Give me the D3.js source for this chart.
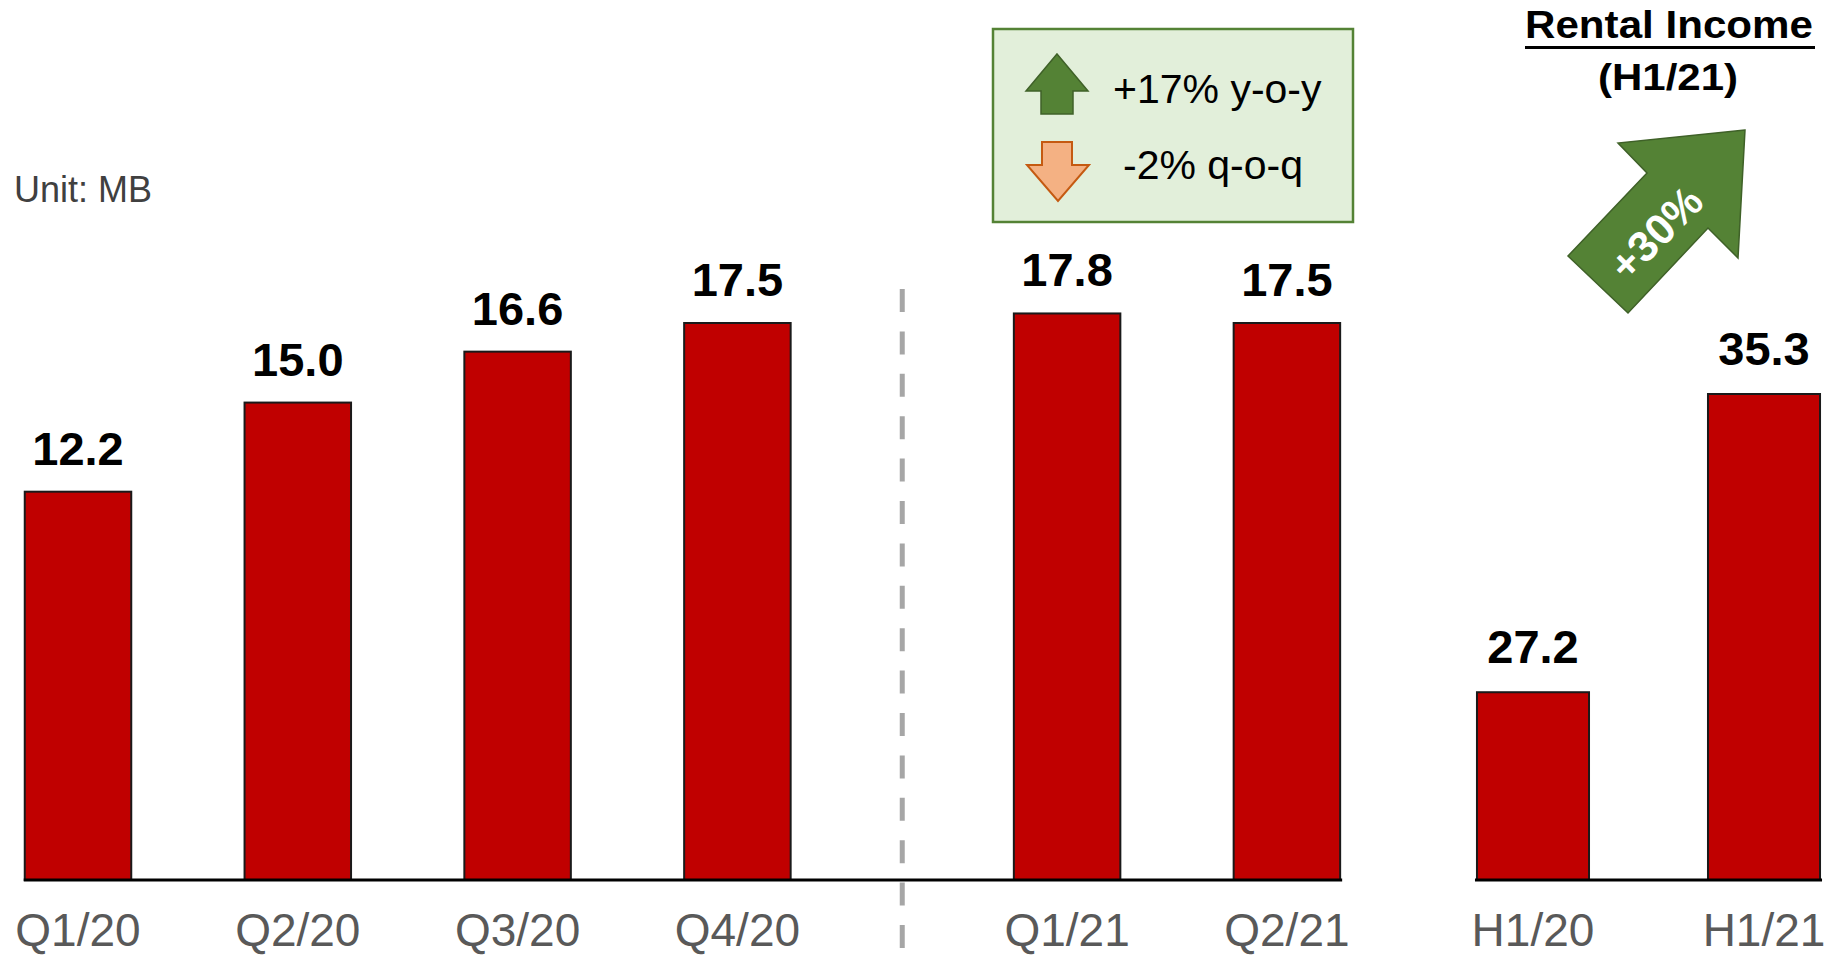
<!DOCTYPE html>
<html>
<head>
<meta charset="utf-8">
<script src="https://cdn.jsdelivr.net/npm/d3@7"></script>
<style>
  body { margin: 0; background: #fff; }
  svg { display: block; font-family: "Liberation Sans", Arial, sans-serif; }
</style>
</head>
<body>
<svg id="chart" width="1834" height="956"></svg>
<script>
// quarterly rental income (MB)
let quarters = ['Q1/20', 'Q2/20', 'Q3/20', 'Q4/20', 'Q1/21', 'Q2/21'];
let quarterValues = [12.2, 15.0, 16.6, 17.5, 17.8, 17.5];

// half-year comparison
let halves = ['H1/20', 'H1/21'];
let halfValues = [27.2, 35.3];

let unitLabel = 'Unit: MB';
let legendItems = ['+17% y-o-y', '-2% q-o-q'];
let halfTitle = ['Rental Income', '(H1/21)'];
let halfGrowth = '+30%';

let width = 1834, height = 956;
let baseY = 880;
let red = '#c00000', green = '#548235', darkGreen = '#3f6128';

let svg = d3.select('#chart');

//slot index per quarter, half a slot extra gap when the year changes
let slots = [];
quarters.forEach(function(q, i) {
  let s = i;
  if (i > 0) {
    let prev = slots[i - 1];
    s = prev + 1 + (q.slice(-2) !== quarters[i - 1].slice(-2) ? 0.5 : 0);
  }
  slots.push(s);
});

let xQ = d3.scaleLinear()
  .domain([0, 1])
  .range([78, 297.8]);
let barW = 106.5;

let yQ = d3.scaleLinear()
  .domain([0, 17.5])
  .range([baseY, 323]);

// quarter bars
let qg = svg.append('g');
qg.selectAll('rect')
  .data(quarterValues)
  .join('rect')
  .attr('x', function(d, i) { return xQ(slots[i]) - barW / 2; })
  .attr('y', function(d) { return yQ(d); })
  .attr('width', barW)
  .attr('height', function(d) { return baseY - yQ(d); })
  .attr('fill', red)
  .attr('stroke', '#1a1a1a')
  .attr('stroke-width', 2);

qg.selectAll('.val')
  .data(quarterValues)
  .join('text')
  .attr('class', 'val')
  .attr('x', function(d, i) { return xQ(slots[i]); })
  .attr('y', function(d) { return yQ(d) - 27; })
  .attr('text-anchor', 'middle')
  .attr('font-size', 47)
  .attr('font-weight', 'bold')
  .attr('fill', '#000')
  .text(function(d) { return d.toFixed(1); });

qg.selectAll('.cat')
  .data(quarters)
  .join('text')
  .attr('class', 'cat')
  .attr('x', function(d, i) { return xQ(slots[i]); })
  .attr('y', 946)
  .attr('text-anchor', 'middle')
  .attr('font-size', 46)
  .attr('fill', '#595959')
  .text(function(d) { return d; });

// quarter baseline
qg.append('line')
  .attr('x1', xQ(slots[0]) - barW / 2 - 1)
  .attr('x2', xQ(slots[slots.length - 1]) + barW / 2 + 2)
  .attr('y1', baseY).attr('y2', baseY)
  .attr('stroke', '#000')
  .attr('stroke-width', 3);

// dashed divider between years
let divX = (xQ(slots[3]) + xQ(slots[4])) / 2;
svg.append('line')
  .attr('x1', divX).attr('x2', divX)
  .attr('y1', 289).attr('y2', 956)
  .attr('stroke', '#a6a6a6')
  .attr('stroke-width', 5)
  .attr('stroke-dasharray', '23,19.4');

// half-year bars (truncated axis)
let xH = d3.scaleBand()
  .domain(halves)
  .range([1358, 1939])
  .padding(0.515);

let yH = d3.scaleLinear()
  .domain([22.1, 35.3])
  .range([baseY, 394]);

let hg = svg.append('g');
hg.selectAll('rect')
  .data(halfValues)
  .join('rect')
  .attr('x', function(d, i) { return xH(halves[i]); })
  .attr('y', function(d) { return yH(d); })
  .attr('width', xH.bandwidth())
  .attr('height', function(d) { return baseY - yH(d); })
  .attr('fill', red)
  .attr('stroke', '#1a1a1a')
  .attr('stroke-width', 2);

hg.selectAll('.val')
  .data(halfValues)
  .join('text')
  .attr('class', 'val')
  .attr('x', function(d, i) { return xH(halves[i]) + xH.bandwidth() / 2; })
  .attr('y', function(d) { return yH(d) - 29; })
  .attr('text-anchor', 'middle')
  .attr('font-size', 47)
  .attr('font-weight', 'bold')
  .attr('fill', '#000')
  .text(function(d) { return d.toFixed(1); });

hg.selectAll('.cat')
  .data(halves)
  .join('text')
  .attr('class', 'cat')
  .attr('x', function(d) { return xH(d) + xH.bandwidth() / 2; })
  .attr('y', 946)
  .attr('text-anchor', 'middle')
  .attr('font-size', 46)
  .attr('fill', '#595959')
  .text(function(d) { return d; });

hg.append('line')
  .attr('x1', xH(halves[0]) - 2)
  .attr('x2', xH(halves[1]) + xH.bandwidth() + 2)
  .attr('y1', baseY).attr('y2', baseY)
  .attr('stroke', '#000')
  .attr('stroke-width', 3);

// unit label
svg.append('text')
  .attr('x', 14).attr('y', 202)
  .attr('font-size', 36)
  .attr('fill', '#404040')
  .text(unitLabel);

// legend box with arrows
let lg = svg.append('g');
lg.append('rect')
  .attr('x', 993).attr('y', 29)
  .attr('width', 360).attr('height', 193)
  .attr('fill', '#e2efda')
  .attr('stroke', green)
  .attr('stroke-width', 2.5);

lg.append('path')
  .attr('d', 'M1057,54 L1088,91 L1073,91 L1073,114 L1041,114 L1041,91 L1026,91 Z')
  .attr('fill', green)
  .attr('stroke', darkGreen)
  .attr('stroke-width', 1.5);

lg.append('path')
  .attr('d', 'M1042,142 L1072,142 L1072,165 L1089,165 L1058,201 L1027,165 L1042,165 Z')
  .attr('fill', '#f4b183')
  .attr('stroke', '#c55a11')
  .attr('stroke-width', 2);

lg.append('text')
  .attr('x', 1113).attr('y', 103)
  .attr('font-size', 41)
  .attr('fill', '#000')
  .text(legendItems[0]);

lg.append('text')
  .attr('x', 1123).attr('y', 179)
  .attr('font-size', 41)
  .attr('fill', '#000')
  .text(legendItems[1]);

// half-year title
svg.append('text')
  .attr('x', 1669).attr('y', 38)
  .attr('text-anchor', 'middle')
  .attr('font-size', 38)
  .attr('font-weight', 'bold')
  .attr('textLength', 288)
  .attr('lengthAdjust', 'spacingAndGlyphs')
  .text(halfTitle[0]);

svg.append('rect')
  .attr('x', 1525).attr('y', 46)
  .attr('width', 290).attr('height', 3)
  .attr('fill', '#000');

svg.append('text')
  .attr('x', 1668).attr('y', 90)
  .attr('text-anchor', 'middle')
  .attr('font-size', 37)
  .attr('font-weight', 'bold')
  .attr('textLength', 140)
  .attr('lengthAdjust', 'spacingAndGlyphs')
  .text(halfTitle[1]);

// big growth arrow
svg.append('path')
  .attr('d', 'M1745,130 L1618,143 L1647,173 L1568,256 L1628,313 L1708,228 L1738,258 Z')
  .attr('fill', green)
  .attr('stroke', darkGreen)
  .attr('stroke-width', 1.5);

svg.append('text')
  .attr('transform', 'translate(1656,233) rotate(-45)')
  .attr('text-anchor', 'middle')
  .attr('dominant-baseline', 'central')
  .attr('font-size', 43)
  .attr('font-weight', 'bold')
  .attr('fill', '#fff')
  .text(halfGrowth);
</script>
</body>
</html>
